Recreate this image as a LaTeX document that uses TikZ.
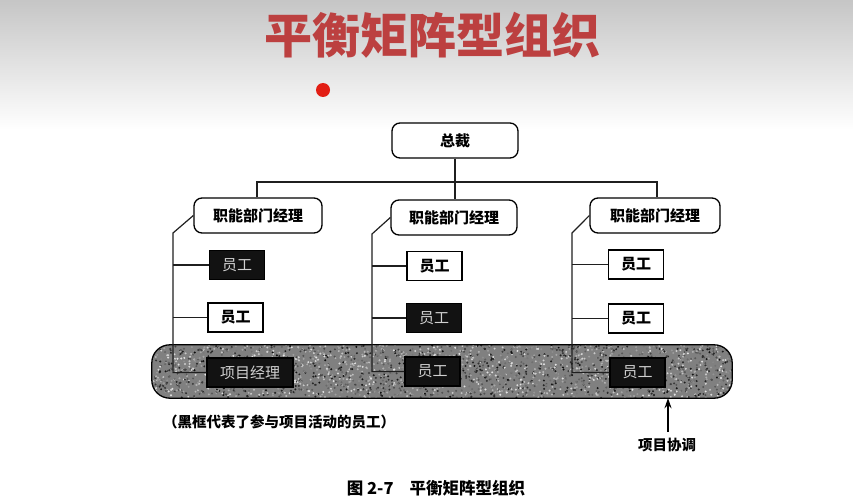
\documentclass[tikz,border=0pt]{standalone}
\usepackage{fontspec}
\newfontfamily\cjk{Noto Sans CJK SC}
\usetikzlibrary{arrows.meta}
\definecolor{titlered}{RGB}{188,64,64}
\definecolor{bandgray}{RGB}{128,128,128}
\definecolor{dotred}{RGB}{226,30,20}
\begin{document}
\begin{tikzpicture}[x=1pt,y=-1pt,
  every node/.style={inner sep=0pt, font=\cjk\fontsize{15}{17}\selectfont},
  mgr/.style={draw, line width=1.3pt, rounded corners=8pt, fill=white,
    minimum width=128pt, minimum height=35pt, font=\cjk\bfseries\fontsize{15}{17}\selectfont},
  wbox/.style={draw, line width=1.2pt, fill=white, minimum width=55pt,
    minimum height=29pt, font=\cjk\bfseries\fontsize{15}{17}\selectfont},
  bbox/.style={draw, line width=1.2pt, fill=black!93, text=white!82!black,
    minimum width=55pt, minimum height=29pt, font=\cjk\fontsize{15}{17}\selectfont},
  conn/.style={line width=1.2pt, black!88},
  lbl/.style={font=\cjk\bfseries\fontsize{14.5}{17}\selectfont},
]
\useasboundingbox (0,0) rectangle (853,500);
\fill[white] (0,0) rectangle (853,500);
\shade[top color=gray!45, bottom color=white] (0,0) rectangle (853,130);

% title and red mark
\node[font=\cjk\bfseries\fontsize{48}{52}\selectfont, text=titlered] (title) at (432,35) {平衡矩阵型组织};
\node[circle, fill=dotred, minimum size=14pt] (dot) at (323,90) {};

% project band
\node[rounded corners=18pt, fill=bandgray, minimum width=580pt, minimum height=53pt] (band) at (442,371.5) {};
\begin{scope}
  \clip[rounded corners=18pt] (band.north west) rectangle (band.south east);
  \pgfmathsetseed{11}
  \foreach \i in {1,...,2600}{
    \pgfmathsetmacro\px{152+580*rnd}
    \pgfmathsetmacro\py{345+53*rnd}
    \pgfmathtruncatemacro\pc{10+85*rnd}
    \fill[black!\pc!white] (\px,\py) circle (1.1);
  }
\end{scope}
\draw[line width=1.3pt, rounded corners=18pt] (band.north west) rectangle (band.south east);

% top levels
\node[mgr, minimum width=126pt] (ceo) at (455,140.5) {总裁};
\node[mgr] (m1) at (258,215.5) {职能部门经理};
\node[mgr, minimum width=126pt] (m2) at (454,217.5) {职能部门经理};
\node[mgr, minimum width=130pt] (m3) at (655,215.5) {职能部门经理};

% employees
\node[bbox] (e11) at (237,265) {员工};
\node[wbox] (e12) at (235.5,317.5) {员工};
\node[bbox, minimum width=86pt] (pm) at (250,372.5) {项目经理};
\node[wbox] (e21) at (434.5,266) {员工};
\node[bbox] (e22) at (434,318) {员工};
\node[bbox] (e23) at (432.5,371.5) {员工};
\node[wbox] (e31) at (636,264.5) {员工};
\node[wbox] (e32) at (636,318.5) {员工};
\node[bbox] (e33) at (637.5,372.5) {员工};

% connectors
\draw[conn] (ceo.south) -- (ceo.south |- m2.north);
\draw[conn] (m1.north -| 257,0) -- (257,182) -- (657,182) -- (m3.north -| 657,0);

\coordinate (k1) at (173,233);
\coordinate (k2) at (372,234);
\coordinate (k3) at (572,233);
\draw[conn] (m1.west) -- (k1) |- (pm.west);
\draw[conn] (m2.west) -- (k2) |- (e23.west);
\draw[conn] (m3.west) -- (k3) |- (e33.west);
\draw[conn] (e11.west) -- (e11.west -| k1);
\draw[conn] (e12.west) -- (e12.west -| k1);
\draw[conn] (e21.west) -- (e21.west -| k2);
\draw[conn] (e22.west) -- (e22.west -| k2);
\draw[conn] (e31.west) -- (e31.west -| k3);
\draw[conn] (e32.west) -- (e32.west -| k3);

% project coordination arrow
\coordinate (atail) at (668,432);
\draw[line width=1.7pt, -{Stealth[length=10pt,width=7pt]}] (atail) -- (atail |- band.south);
\node[lbl] (coord) at (667,445) {项目协调};

% notes
\node[lbl, anchor=west] (note) at (163,422) {（黑框代表了参与项目活动的员工）};
\node[font=\cjk\bfseries\fontsize{16.5}{19}\selectfont] (cap) at (436,488) {图 2-7\hspace{16pt}平衡矩阵型组织};
\end{tikzpicture}
\end{document}
